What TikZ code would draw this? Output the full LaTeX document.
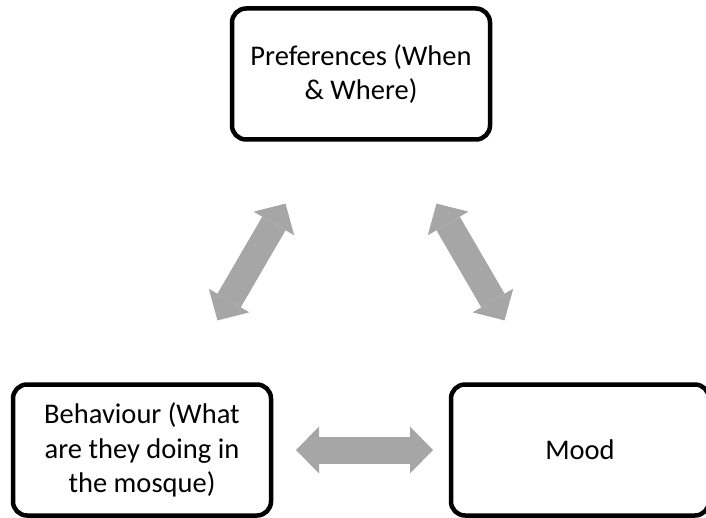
\documentclass[tikz,border=0pt]{standalone}
\usepackage{fontspec}
\setmainfont{Carlito}
\usetikzlibrary{arrows.meta}
\definecolor{frecciagrigia}{HTML}{A6A6A6}

\begin{document}
\begin{tikzpicture}[x=1pt, y=-1pt, line join=round,
  fase/.style={draw, line width=4.5pt, rounded corners=14pt,
    minimum width=258pt, minimum height=131pt, align=center,
    font=\fontsize{28.5}{34.5}\selectfont},
  punta/.style={Triangle[width=47pt, length=23pt, line width=0pt]},
  freccia/.style={draw=frecciagrigia, line width=27pt, line cap=butt,
    {Triangle[width=47pt, length=23pt, line width=0pt]}-{Triangle[width=47pt, length=23pt, line width=0pt]},
    shorten <=150pt, shorten >=150pt}]

% cornice
\useasboundingbox (0,0) rectangle (706,518);

% riquadri
\node[fase] (pref) at (361,74) {Preferences (When\\ \& Where)};
\node[fase] (comp) at (142,450) {Behaviour (What\\ are they doing in\\ the mosque)};
\node[fase] (umore) at (580,450) {Mood};

% frecce doppie
\draw[freccia] (pref.center) -- (comp.center);
\draw[freccia] (pref.center) -- (umore.center);
\draw[freccia, shorten <=154pt, shorten >=147pt] (comp.center) -- (umore.center);
\end{tikzpicture}
\end{document}
